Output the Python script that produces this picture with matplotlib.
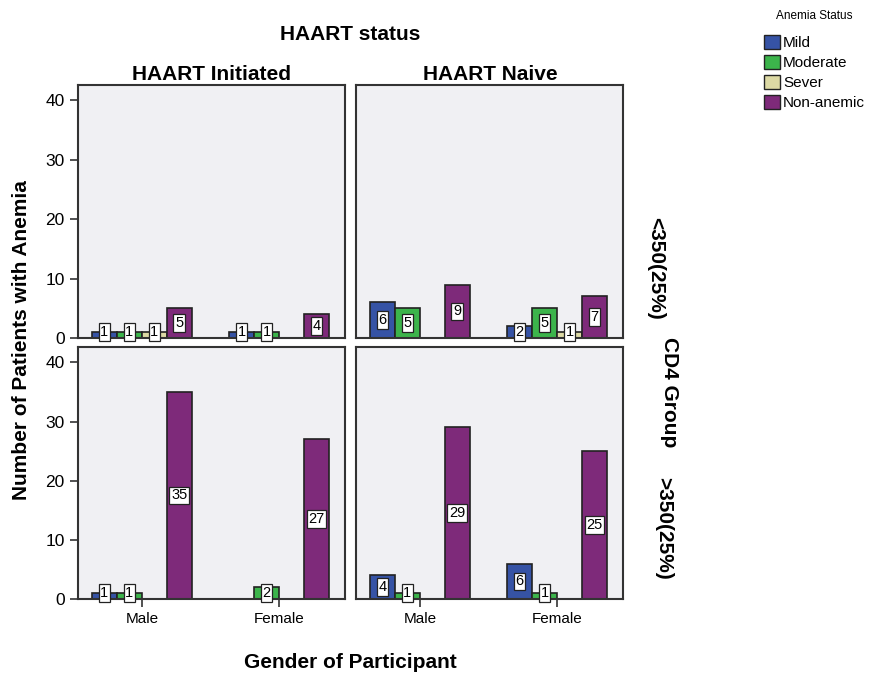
import matplotlib
matplotlib.use("Agg")
import matplotlib.pyplot as plt
from matplotlib.patches import Patch
import numpy as np

plt.rcParams['font.family'] = ['Liberation Sans', 'DejaVu Sans']

genders = ["Male", "Female"]
statuses = ["Mild", "Moderate", "Sever", "Non-anemic"]
colors = ["#3653a5", "#3cb44b", "#dcd9a4", "#7e2a7a"]

# values[status] -> [Male, Female]
init_low = {"Mild": [1, 1], "Moderate": [1, 1], "Sever": [1, 0], "Non-anemic": [5, 4]}
naive_low = {"Mild": [6, 2], "Moderate": [5, 5], "Sever": [0, 1], "Non-anemic": [9, 7]}
init_high = {"Mild": [1, 0], "Moderate": [1, 2], "Sever": [0, 0], "Non-anemic": [35, 27]}
naive_high = {"Mild": [4, 6], "Moderate": [1, 1], "Sever": [0, 0], "Non-anemic": [29, 25]}

W, H = 878, 674
fig = plt.figure(figsize=(W / 100, H / 100), dpi=100)

def ax_rect(x0, y0, x1, y1):
    return [x0 / W, 1 - y1 / H, (x1 - x0) / W, (y1 - y0) / H]

panels = [
    (ax_rect(78, 85, 345, 338), init_low, False),
    (ax_rect(356, 85, 623, 338), naive_low, False),
    (ax_rect(78, 347, 345, 599), init_high, True),
    (ax_rect(356, 347, 623, 599), naive_high, True),
]

bw = 0.182
x = np.arange(len(genders))
for i, (rect, data, show_x) in enumerate(panels):
    ax = fig.add_axes(rect)
    ax.set_facecolor("#f0f0f3")
    for k, s in enumerate(statuses):
        vals = data[s]
        pos = x + (k - 1.5) * bw
        ax.bar(pos, vals, width=bw, color=colors[k], edgecolor="#222222", linewidth=1.2, zorder=2)
        for p, v in zip(pos, vals):
            if v > 0:
                ax.text(p, max(v / 2, 1.0), str(v), ha="center", va="center", fontsize=10.5,
                        zorder=4,
                        bbox=dict(boxstyle="square,pad=0.12", facecolor="white",
                                  edgecolor="#222222", linewidth=0.9))
    ax.set_xlim(-0.465, 1.48)
    ax.set_ylim(0, 42.6)
    ax.set_yticks([0, 10, 20, 30, 40])
    ax.set_xticks(x)
    for sp in ax.spines.values():
        sp.set_color("#333333")
        sp.set_linewidth(1.5)
    ax.tick_params(axis="both", direction="out", length=6, width=1.2, color="#333333", labelsize=12.5)
    if show_x:
        ax.set_xticklabels(genders, fontsize=11)
    else:
        ax.tick_params(axis="x", length=0, labelbottom=False)
    if i % 2 == 1:
        ax.tick_params(axis="y", length=0, labelleft=False)

fig.text(350 / W, 1 - 35 / H, "HAART status", ha="center", va="center", fontsize=15, fontweight="bold")
fig.text(212 / W, 1 - 74 / H, "HAART Initiated", ha="center", va="center", fontsize=15, fontweight="bold")
fig.text(490 / W, 1 - 74 / H, "HAART Naive", ha="center", va="center", fontsize=15, fontweight="bold")
fig.text(22 / W, 1 - 340 / H, "Number of Patients with Anemia", ha="center", va="center",
         rotation=90, fontsize=15, fontweight="bold")
fig.text(350 / W, 1 - 662 / H, "Gender of Participant", ha="center", va="center", fontsize=15, fontweight="bold")
fig.text(656 / W, 1 - 268 / H, "<350(25%)", ha="center", va="center", rotation=-90, fontsize=15, fontweight="bold")
fig.text(670 / W, 1 - 392 / H, "CD4 Group", ha="center", va="center", rotation=-90, fontsize=15, fontweight="bold")
fig.text(664 / W, 1 - 528 / H, ">350(25%)", ha="center", va="center", rotation=-90, fontsize=15, fontweight="bold")

fig.text(814 / W, 1 - 16 / H, "Anemia Status", ha="center", va="center", fontsize=8.5)
handles = [Patch(facecolor=c, edgecolor="#222222", linewidth=1.0) for c in colors]
leg = fig.legend(handles, statuses, loc="upper left", bbox_to_anchor=(764 / W, 1 - 35 / H),
                 frameon=False, fontsize=11,
                 handlelength=1.05, handleheight=1.05, handletextpad=0.2, labelspacing=0.3,
                 borderaxespad=0, borderpad=0)

fig.savefig("out.png", dpi=100)
